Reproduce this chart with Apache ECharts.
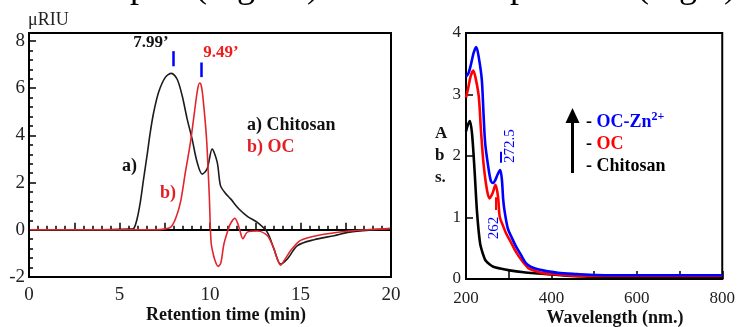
<!DOCTYPE html>
<html>
<head>
<meta charset="utf-8">
<script src="https://cdn.jsdelivr.net/npm/echarts@6.0.0/dist/echarts.min.js"></script>
<style>
  html, body { margin: 0; padding: 0; background: #fff; }
  #main { width: 738px; height: 327px; }
</style>
</head>
<body>
<div id="main"></div>
<script>
// GPC traces (retention time in min, signal in uRIU)
const chitosanT = [0, 3, 5, 5.6, 5.78, 5.97, 6.15, 6.33, 6.52, 6.7, 6.89, 7.16, 7.53, 7.87, 8.18, 8.46, 8.74, 9.01, 9.29, 9.57, 9.84, 10.12, 10.4, 10.58, 10.85, 11.14, 11.6, 12.1, 12.6, 13.16, 13.53, 13.9, 14.27, 14.83, 15.75, 16.86, 17.7, 19, 20];
const chitosanV = [0, 0, 0.02, 0.03, 0.05, 0.46, 1.17, 2.15, 3.14, 4.13, 4.98, 5.83, 6.46, 6.63, 6.39, 5.69, 4.69, 3.85, 2.86, 2.36, 2.58, 3.42, 2.86, 1.87, 1.55, 1.31, 0.88, 0.55, 0.32, -0.1, -0.8, -1.45, -1.24, -0.67, -0.42, -0.25, -0.1, 0, 0.05];
const ocT = [0, 4, 7.0, 7.44, 7.81, 8.09, 8.37, 8.64, 8.92, 9.14, 9.32, 9.43, 9.52, 9.62, 9.81, 9.96, 10.06, 10.2, 10.35, 10.45, 10.6, 10.77, 11.05, 11.2, 11.37, 11.52, 11.65, 11.82, 12.06, 12.6, 13.16, 13.5, 13.7, 13.9, 14.1, 14.46, 15.0, 15.94, 17.7, 19, 20];
const ocV = [0, 0, 0, 0.03, 0.1, 0.46, 1.17, 2.44, 3.7, 4.98, 5.97, 6.22, 6.1, 5.54, 3.85, 1.45, -0.53, -1.1, -1.45, -1.55, -1.4, -0.6, 0.11, 0.35, 0.49, 0.3, -0.03, -0.38, -0.1, -0.05, -0.24, -0.75, -1.2, -1.5, -1.3, -0.88, -0.45, -0.24, -0.05, 0.02, 0.05];
const peakTimes = [7.99, 9.49];

// UV spectra (wavelength in nm, absorbance)
const uvChitosanW = [200, 204, 209, 214, 220, 226, 233, 240, 245, 255, 264, 280, 302, 335, 370, 445, 521, 600, 700, 800];
const uvChitosanA = [2.4, 2.5, 2.57, 2.37, 1.77, 1.07, 0.58, 0.4, 0.31, 0.24, 0.2, 0.17, 0.14, 0.11, 0.09, 0.05, 0.03, 0.02, 0.015, 0.01];
const uvOcW = [200, 205, 211, 217, 223, 230, 235, 241, 249, 255, 262, 269, 275, 279, 287, 294, 305, 317, 332, 347, 362, 377, 420, 468, 550, 650, 800];
const uvOcA = [2.95, 3.1, 3.3, 3.39, 3.25, 2.96, 2.42, 1.88, 1.45, 1.31, 1.39, 1.53, 1.34, 1.01, 0.86, 0.74, 0.6, 0.44, 0.29, 0.17, 0.13, 0.1, 0.07, 0.05, 0.05, 0.05, 0.05];
const uvZnW = [200, 206, 212, 218, 224, 230, 237, 241, 245, 252, 258, 263, 268, 274, 280, 284, 287, 290, 298, 308, 317, 328, 340, 351, 362, 380, 415, 460, 506, 600, 700, 800];
const uvZnA = [3.29, 3.35, 3.5, 3.68, 3.77, 3.6, 3.24, 2.69, 2.2, 1.83, 1.6, 1.56, 1.6, 1.7, 1.77, 1.62, 1.3, 1.12, 0.82, 0.66, 0.53, 0.4, 0.26, 0.2, 0.17, 0.14, 0.1, 0.08, 0.065, 0.06, 0.06, 0.06];

const serif = '"Liberation Serif", "Times New Roman", serif';
const zip = (xs, ys) => xs.map((x, i) => [x, ys[i]]);

let myChart = echarts.init(document.getElementById('main'));

const tickStyle = {color: '#000', width: 1.5};
const leftLabel = {fontFamily: serif, fontSize: 19, color: '#222'};
const rightLabel = {fontFamily: serif, fontSize: 17, color: '#222'};

let option = {
  animation: false,
  grid: [
    {left: 29, top: 41, width: 362, height: 236, show: false},
    {left: 466, top: 33, width: 264, height: 246, show: true, borderColor: '#000', borderWidth: 2}
  ],
  xAxis: [
    {
      gridIndex: 0, type: 'value', min: 0, max: 20, interval: 2.5,
      axisLine: {lineStyle: {color: '#000', width: 2}},
      axisTick: {inside: true, length: 7, lineStyle: tickStyle},
      minorTick: {show: true, splitNumber: 5, length: 4, lineStyle: tickStyle},
      axisLabel: {...leftLabel, margin: 9, formatter: v => (v % 5 === 0 ? String(v) : '')},
      splitLine: {show: false}
    },
    {
      gridIndex: 1, type: 'value', min: 200, max: 800, interval: 100,
      axisLine: {lineStyle: {color: '#000', width: 2}},
      axisTick: {inside: true, length: 8, lineStyle: tickStyle},
      axisLabel: {...rightLabel, margin: 11, formatter: v => (v % 200 === 0 ? String(v) : '')},
      splitLine: {show: false}
    }
  ],
  yAxis: [
    {
      gridIndex: 0, type: 'value', min: -2, max: 8, interval: 2,
      axisLine: {show: true, lineStyle: {color: '#000', width: 2}},
      axisTick: {show: true, inside: true, length: 7, lineStyle: tickStyle},
      minorTick: {show: true, splitNumber: 5, length: 4, lineStyle: tickStyle},
      axisLabel: {...leftLabel, margin: 4},
      splitLine: {show: false}
    },
    {
      gridIndex: 1, type: 'value', min: 0, max: 4, interval: 1,
      axisLine: {show: true, lineStyle: {color: '#000', width: 2}},
      axisTick: {show: true, inside: true, length: 7, lineStyle: tickStyle},
      axisLabel: {...rightLabel, margin: 5},
      splitLine: {show: false}
    }
  ],
  series: [
    {
      name: 'a) Chitosan', type: 'line', xAxisIndex: 0, yAxisIndex: 0,
      data: zip(chitosanT, chitosanV), showSymbol: false, smooth: 0.3,
      lineStyle: {color: '#1c1c1c', width: 1.6},
      markLine: {
        silent: true, symbol: 'none', label: {show: false},
        lineStyle: {color: '#0000ff', width: 2.5, type: 'solid'},
        data: [[{coord: [peakTimes[0], 6.93]}, {coord: [peakTimes[0], 7.57]}]]
      }
    },
    {
      name: 'b) OC', type: 'line', xAxisIndex: 0, yAxisIndex: 0,
      data: zip(ocT, ocV), showSymbol: false, smooth: 0.3,
      lineStyle: {color: '#e2252b', width: 1.6},
      markLine: {
        silent: true, symbol: 'none', label: {show: false},
        lineStyle: {color: '#0000ff', width: 2.5, type: 'solid'},
        data: [[{coord: [peakTimes[1], 6.47]}, {coord: [peakTimes[1], 7.09]}]]
      }
    },
    {
      name: 'Chitosan', type: 'line', xAxisIndex: 1, yAxisIndex: 1,
      data: zip(uvChitosanW, uvChitosanA), showSymbol: false, smooth: 0.3,
      lineStyle: {color: '#000', width: 2.6}
    },
    {
      name: 'OC', type: 'line', xAxisIndex: 1, yAxisIndex: 1,
      data: zip(uvOcW, uvOcA), showSymbol: false, smooth: 0.3,
      lineStyle: {color: '#ff0000', width: 2.6},
      markLine: {
        silent: true, symbol: 'none', label: {show: false},
        lineStyle: {color: '#ff0000', width: 2, type: 'solid'},
        data: [[{coord: [270, 1.12]}, {coord: [270, 1.33]}]]
      }
    },
    {
      name: 'OC-Zn2+', type: 'line', xAxisIndex: 1, yAxisIndex: 1,
      data: zip(uvZnW, uvZnA), showSymbol: false, smooth: 0.3,
      lineStyle: {color: '#0000ff', width: 2.6},
      markLine: {
        silent: true, symbol: 'none', label: {show: false},
        lineStyle: {color: '#0000ff', width: 2, type: 'solid'},
        data: [[{coord: [281, 1.89]}, {coord: [281, 2.07]}]]
      }
    }
  ],
  graphic: [
    // cut-off caption line at the very top
    {type: 'text', x: 51, y: -12, style: {text: 'GPC plot (Fig. 2a)', fontFamily: serif, fontSize: 36, fill: '#000', verticalAlign: 'middle'}},
    {type: 'text', x: 435, y: -12, style: {text: 'UV spectrum (Fig.b)', fontFamily: serif, fontSize: 36, fill: '#000', verticalAlign: 'middle'}},
    // left panel frame
    {type: 'rect', shape: {x: 29, y: 33, width: 362, height: 244}, style: {fill: 'none', stroke: '#000', lineWidth: 2}, z: 10},
    {type: 'text', x: 28, y: 20, style: {text: 'μRIU', fontFamily: serif, fontSize: 18, fill: '#222', verticalAlign: 'middle'}},
    {type: 'text', x: 151, y: 43, style: {text: '7.99’', fontFamily: serif, fontSize: 17, fontWeight: 'bold', fill: '#111', align: 'center', verticalAlign: 'middle'}},
    {type: 'text', x: 221, y: 53, style: {text: '9.49’', fontFamily: serif, fontSize: 17, fontWeight: 'bold', fill: '#f01c1c', align: 'center', verticalAlign: 'middle'}},
    {type: 'text', x: 247, y: 125, style: {text: 'a) Chitosan', fontFamily: serif, fontSize: 18, fontWeight: 'bold', fill: '#111', verticalAlign: 'middle'}},
    {type: 'text', x: 247, y: 147, style: {text: 'b) OC', fontFamily: serif, fontSize: 18, fontWeight: 'bold', fill: '#e31e24', verticalAlign: 'middle'}},
    {type: 'text', x: 122, y: 166, style: {text: 'a)', fontFamily: serif, fontSize: 18, fontWeight: 'bold', fill: '#111', verticalAlign: 'middle'}},
    {type: 'text', x: 160, y: 193, style: {text: 'b)', fontFamily: serif, fontSize: 18, fontWeight: 'bold', fill: '#e31e24', verticalAlign: 'middle'}},
    {type: 'text', x: 226, y: 315, style: {text: 'Retention time (min)', fontFamily: serif, fontSize: 18, fontWeight: 'bold', fill: '#111', align: 'center', verticalAlign: 'middle'}},
    // right panel
    {type: 'text', x: 435, y: 123, style: {text: 'A\nb\ns.', fontFamily: serif, fontSize: 17, fontWeight: 'bold', lineHeight: 22, fill: '#111', verticalAlign: 'top'}},
    {type: 'text', x: 615, y: 318, style: {text: 'Wavelength (nm.)', fontFamily: serif, fontSize: 18, fontWeight: 'bold', fill: '#111', align: 'center', verticalAlign: 'middle'}},
    {type: 'text', x: 510, y: 146, rotation: Math.PI / 2, style: {text: '272.5', fontFamily: serif, fontSize: 15, fill: '#0000ff', align: 'center', verticalAlign: 'middle'}},
    {type: 'text', x: 494, y: 228, rotation: Math.PI / 2, style: {text: '262', fontFamily: serif, fontSize: 15, fill: '#0000ff', align: 'center', verticalAlign: 'middle'}},
    {type: 'polygon', shape: {points: [[565.5, 123], [572.5, 108], [579.5, 123]]}, style: {fill: '#000'}},
    {type: 'line', shape: {x1: 572.5, y1: 121, x2: 572.5, y2: 173}, style: {stroke: '#000', lineWidth: 3}},
    {type: 'text', x: 586, y: 122, style: {
      text: '{d|- }{b|OC-Zn}{s|2+}', verticalAlign: 'middle',
      rich: {
        d: {fontFamily: serif, fontSize: 18, fontWeight: 'bold', fill: '#000'},
        b: {fontFamily: serif, fontSize: 18, fontWeight: 'bold', fill: '#0000ff'},
        s: {fontFamily: serif, fontSize: 12, fontWeight: 'bold', fill: '#0000ff', padding: [0, 0, 10, 0]}
      }
    }},
    {type: 'text', x: 586, y: 144, style: {
      text: '{d|- }{r|OC}', verticalAlign: 'middle',
      rich: {
        d: {fontFamily: serif, fontSize: 18, fontWeight: 'bold', fill: '#000'},
        r: {fontFamily: serif, fontSize: 18, fontWeight: 'bold', fill: '#ff0000'}
      }
    }},
    {type: 'text', x: 586, y: 166, style: {text: '- Chitosan', fontFamily: serif, fontSize: 18, fontWeight: 'bold', fill: '#000', verticalAlign: 'middle'}}
  ]
};

myChart.setOption(option);
</script>
</body>
</html>
